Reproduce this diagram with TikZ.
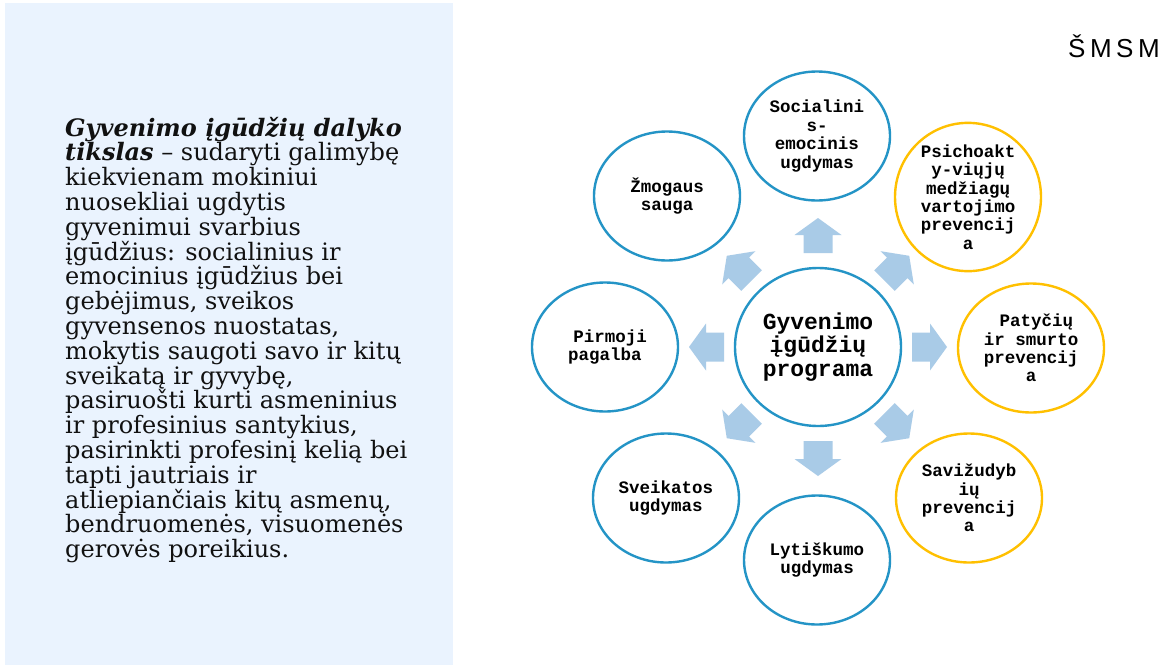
\documentclass[tikz,border=0pt]{standalone}
\usepackage{fontspec}
\setmainfont{DejaVu Serif}
\newfontfamily\monof{Liberation Mono}
\newfontfamily\sansf{Liberation Sans}
\usetikzlibrary{shapes.geometric}
\definecolor{panelc}{HTML}{EAF3FE}
\definecolor{bluec}{HTML}{2494C6}
\definecolor{yellowc}{HTML}{FFC000}
\definecolor{arrowc}{HTML}{A9CBE7}
\definecolor{textc}{HTML}{111111}
\begin{document}
\begin{tikzpicture}[x=1pt,y=-1pt,
  bub/.style={ellipse, draw=bluec, line width=2.4pt, minimum width=146pt, minimum height=129pt, inner sep=0pt, align=center, text=black, font=\monof\bfseries\fontsize{17.5}{18.4}\selectfont},
  ybub/.style={bub, draw=yellowc},
  hub/.style={bub, minimum width=166pt, minimum height=158pt, font=\monof\bfseries\fontsize{23}{23.4}\selectfont},
  line/.style={anchor=base west, inner sep=0pt, text=textc, font=\fontsize{24}{24.8}\selectfont},
  blockarrow/.style={fill=arrowc}]
\useasboundingbox (0,0) rectangle (1168,667);
\fill[white] (0,0) rectangle (1168,667);
\fill[panelc] (5,3) rectangle (453,665);
% left text
\node[line] (l1) at (65,136) {\textbf{\textit{Gyvenimo įgūdžių dalyko}}};
\node[line] (l2) at (65,160.8) {\textbf{\textit{tikslas}} – sudaryti galimybę};
\node[line] (l3) at (65,185.6) {kiekvienam mokiniui};
\node[line] (l4) at (65,210.4) {nuosekliai ugdytis};
\node[line] (l5) at (65,235.2) {gyvenimui svarbius};
\node[line] (l6) at (65,260.0) {įgūdžius: socialinius ir};
\node[line] (l7) at (65,284.8) {emocinius įgūdžius bei};
\node[line] (l8) at (65,309.6) {gebėjimus, sveikos};
\node[line] (l9) at (65,334.4) {gyvensenos nuostatas,};
\node[line] (l10) at (65,359.2) {mokytis saugoti savo ir kitų};
\node[line] (l11) at (65,384.0) {sveikatą ir gyvybę,};
\node[line] (l12) at (65,408.8) {pasiruošti kurti asmeninius};
\node[line] (l13) at (65,433.6) {ir profesinius santykius,};
\node[line] (l14) at (65,458.4) {pasirinkti profesinį kelią bei};
\node[line] (l15) at (65,483.2) {tapti jautriais ir};
\node[line] (l16) at (65,508.0) {atliepiančiais kitų asmenų,};
\node[line] (l17) at (65,532.8) {bendruomenės, visuomenės};
\node[line] (l18) at (65,557.6) {gerovės poreikius.};
% logo
\node[anchor=base west, inner sep=0pt, font=\sansf\fontsize{26}{26}\selectfont] (logo) at (1068,57) {Š\kern4.5ptM\kern4.5ptS\kern4.5ptM};
% arrows
\foreach \a in {0,45,...,315}{
  \fill[blockarrow, shift={(818,347)}, rotate=\a] (94,-14.5) -- (112,-14.5) -- (112,-23.5) -- (129,0) -- (112,23.5) -- (112,14.5) -- (94,14.5) -- cycle;
}
% bubbles
\node[hub] (hub) at (818,347) {Gyvenimo\\įgūdžių\\programa};
\node[bub] (soc) at (817,136) {Socialini\\s-\\emocinis\\ugdymas};
\node[ybub] (psi) at (968,197) {Psichoakt\\y-viųjų\\medžiagų\\vartojimo\\prevencij\\a};
\node[ybub] (pat) at (1031,348) {\ Patyčių\\ir smurto\\prevencij\\a};
\node[ybub] (sav) at (969,498) {Savižudyb\\ių\\prevencij\\a};
\node[bub] (lyt) at (817,560) {Lytiškumo\\ugdymas};
\node[bub] (sve) at (666,498) {Sveikatos\\ugdymas};
\node[bub] (pir) at (605,347) {\ Pirmoji\\pagalba};
\node[bub] (zmo) at (667,196) {Žmogaus\\sauga};
\end{tikzpicture}
\end{document}
